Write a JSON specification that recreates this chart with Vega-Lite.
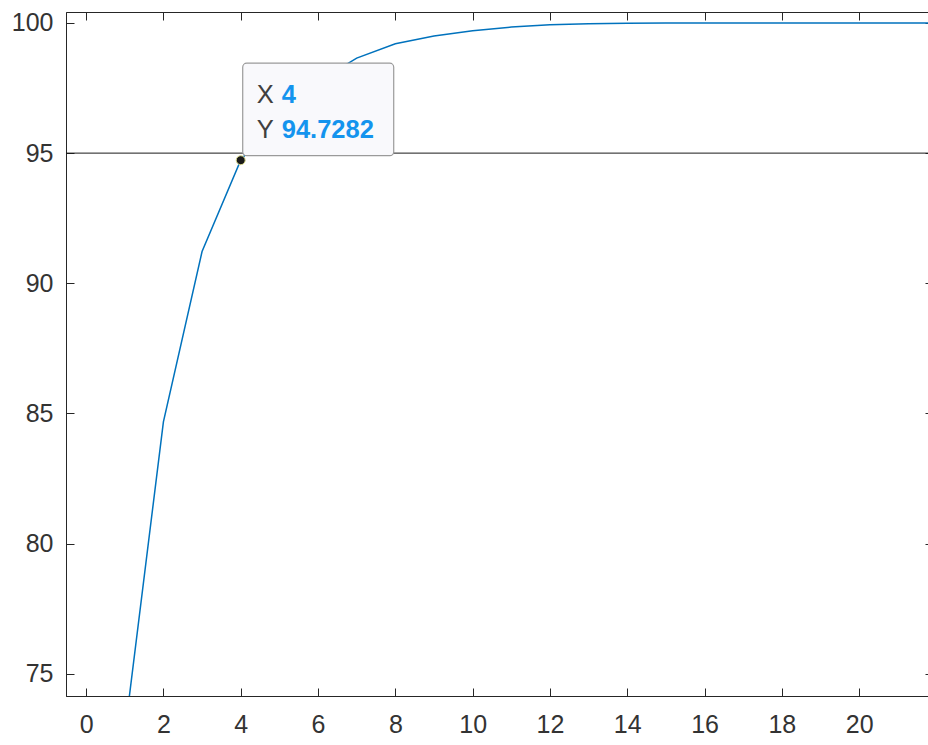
{
  "$schema": "https://vega.github.io/schema/vega-lite/v6.json",
  "width": 867,
  "height": 684,
  "autosize": "none",
  "padding": {"left": 66, "top": 12, "right": 0, "bottom": 49},
  "background": "white",
  "config": {
    "view": {"stroke": "#262626", "strokeWidth": 1},
    "axis": {
      "grid": false,
      "domainColor": "#262626",
      "tickColor": "#262626",
      "labelColor": "#333333",
      "labelFont": "Liberation Sans",
      "labelFontSize": 25,
      "tickSize": -8,
      "title": null
    }
  },
  "datasets": {
    "curve": [
      {"component": 1, "explained": 72.71},
      {"component": 2, "explained": 84.68},
      {"component": 3, "explained": 91.22},
      {"component": 4, "explained": 94.7282},
      {"component": 5, "explained": 96.5},
      {"component": 6, "explained": 97.75},
      {"component": 7, "explained": 98.65},
      {"component": 8, "explained": 99.2},
      {"component": 9, "explained": 99.5},
      {"component": 10, "explained": 99.7},
      {"component": 11, "explained": 99.84},
      {"component": 12, "explained": 99.93},
      {"component": 13, "explained": 99.97},
      {"component": 14, "explained": 99.99},
      {"component": 15, "explained": 99.995},
      {"component": 16, "explained": 99.998},
      {"component": 17, "explained": 99.999},
      {"component": 18, "explained": 100},
      {"component": 19, "explained": 100},
      {"component": 20, "explained": 100},
      {"component": 21, "explained": 100},
      {"component": 22, "explained": 100}
    ],
    "threshold": [{"level": 95}],
    "tip": [{"component": 4, "explained": 94.7282, "labels": "X\nY", "values": "4\n94.7282"}]
  },
  "resolve": {"axis": {"x": "independent", "y": "independent"}},
  "layer": [
    {
      "data": {"name": "curve"},
      "mark": {"type": "line", "color": "#0072BD", "strokeWidth": 1.5, "clip": true},
      "encoding": {
        "x": {"field": "component", "type": "quantitative",
              "scale": {"domain": [-0.52, 21.91], "nice": false, "zero": false},
              "axis": {"orient": "bottom", "values": [0, 2, 4, 6, 8, 10, 12, 14, 16, 18, 20], "labelPadding": 24}},
        "y": {"field": "explained", "type": "quantitative",
              "scale": {"domain": [74.15, 100.42], "nice": false, "zero": false},
              "axis": {"orient": "left", "values": [75, 80, 85, 90, 95, 100], "labelPadding": 21}}
      }
    },
    {
      "data": {"name": "threshold"},
      "mark": {"type": "rule", "color": "#1a1a1a", "strokeWidth": 1},
      "encoding": {
        "y": {"field": "level", "type": "quantitative", "axis": null}
      }
    },
    {
      "data": {"name": "tip"},
      "mark": {"type": "rect", "fill": "#f9f9fc", "stroke": "#9a9a9a", "strokeWidth": 1.2, "cornerRadius": 4,
               "xOffset": 2, "x2Offset": 153, "yOffset": -4.5, "y2Offset": -97},
      "encoding": {
        "x": {"field": "component", "type": "quantitative", "axis": null},
        "x2": {"field": "component"},
        "y": {"field": "explained", "type": "quantitative", "axis": null},
        "y2": {"field": "explained"}
      }
    },
    {
      "data": {"name": "tip"},
      "mark": {"type": "text", "align": "left", "baseline": "alphabetic", "dx": 16, "dy": -57.5,
               "lineBreak": "\n", "lineHeight": 35, "font": "Liberation Sans", "fontSize": 25.5, "color": "#404040"},
      "encoding": {
        "x": {"field": "component", "type": "quantitative", "axis": null},
        "y": {"field": "explained", "type": "quantitative", "axis": null},
        "text": {"field": "labels"}
      }
    },
    {
      "data": {"name": "tip"},
      "mark": {"type": "text", "align": "left", "baseline": "alphabetic", "dx": 41, "dy": -57.5,
               "lineBreak": "\n", "lineHeight": 35, "font": "Liberation Sans", "fontSize": 25.5, "fontWeight": "bold", "color": "#1494ee"},
      "encoding": {
        "x": {"field": "component", "type": "quantitative", "axis": null},
        "y": {"field": "explained", "type": "quantitative", "axis": null},
        "text": {"field": "values"}
      }
    },
    {
      "data": {"name": "tip"},
      "mark": {"type": "point", "filled": true, "shape": "circle", "size": 80, "fill": "#1a1a1a", "stroke": "#d9d98c", "strokeWidth": 1, "opacity": 1},
      "encoding": {
        "x": {"field": "component", "type": "quantitative",
              "axis": {"orient": "top", "values": [0, 2, 4, 6, 8, 10, 12, 14, 16, 18, 20], "labels": false, "domain": false}},
        "y": {"field": "explained", "type": "quantitative",
              "axis": {"orient": "right", "values": [75, 80, 85, 90, 95, 100], "labels": false, "domain": false}}
      }
    }
  ]
}
